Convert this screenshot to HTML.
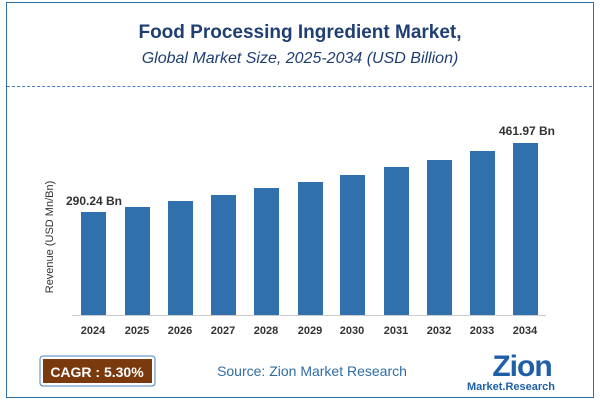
<!DOCTYPE html>
<html><head><style>
body{margin:0;width:600px;height:404px;background:#fff;font-family:"Liberation Sans",sans-serif;overflow:hidden}
.t{position:absolute;width:600px;text-align:center}
</style></head><body>
<div style="position:absolute;left:6px;top:2px;width:586px;height:394px;border:1px solid #2e6da4"></div>
<div class="t" style="top:22px;font-size:19px;font-weight:bold;color:#1f3f73">Food Processing Ingredient Market,</div>
<div class="t" style="top:50px;font-size:16px;font-style:italic;color:#1f3f73">Global Market Size, 2025-2034 (USD Billion)</div>
<div style="position:absolute;left:7px;top:86px;width:585px;border-top:1px dashed #4a7fc0"></div>
<svg width="600" height="404" style="position:absolute;left:0;top:0" font-family="Liberation Sans, sans-serif">
<line x1="72" y1="315.5" x2="546" y2="315.5" stroke="#ccc"/>
<g fill="#3070ad">
<rect x="81" y="212" width="25" height="103"/>
<rect x="125" y="207" width="25" height="108"/>
<rect x="168" y="201" width="25" height="114"/>
<rect x="211" y="195" width="25" height="120"/>
<rect x="254" y="188" width="25" height="127"/>
<rect x="298" y="182" width="25" height="133"/>
<rect x="340" y="175" width="25" height="140"/>
<rect x="384" y="167" width="25" height="148"/>
<rect x="427" y="160" width="25" height="155"/>
<rect x="470" y="151" width="25" height="164"/>
<rect x="513" y="143" width="25" height="172"/>
</g>
<g font-size="11" font-weight="bold" fill="#333" text-anchor="middle">
<text x="93" y="334">2024</text><text x="137" y="334">2025</text><text x="180" y="334">2026</text><text x="223" y="334">2027</text><text x="266" y="334">2028</text><text x="310" y="334">2029</text><text x="352" y="334">2030</text><text x="396" y="334">2031</text><text x="439" y="334">2032</text><text x="482" y="334">2033</text><text x="525" y="334">2034</text>
<text x="94" y="205" font-size="12">290.24 Bn</text>
<text x="527" y="135" font-size="12">461.97 Bn</text>
</g>
<text transform="translate(53,237) rotate(-90)" font-size="11" fill="#333" text-anchor="middle">Revenue (USD Mn/Bn)</text>
<rect x="40" y="356" width="115" height="30" rx="3" fill="#fff" stroke="#4a7fc0"/>
<rect x="43" y="359" width="109" height="24" fill="#7b3a0e"/>
<text x="97" y="377" font-size="14" font-weight="bold" fill="#fff" text-anchor="middle">CAGR : 5.30%</text>
<text x="312" y="376" font-size="14" fill="#2e6da4" text-anchor="middle">Source: Zion Market Research</text>
<text x="522" y="376" font-size="30" font-weight="bold" fill="#1f5fa8" text-anchor="middle" letter-spacing="-1">Zion</text>
<text x="511" y="390" font-size="11" font-weight="bold" fill="#1f5fa8" text-anchor="middle">Market.Research</text>
</svg>
</body></html>
